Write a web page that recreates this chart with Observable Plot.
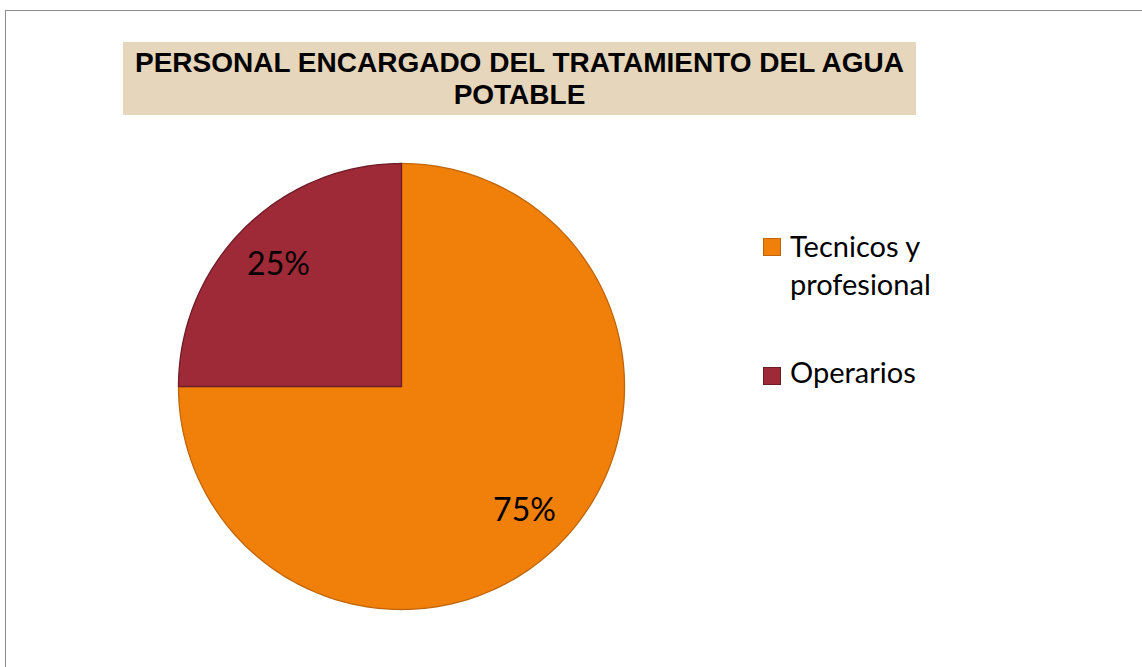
<!DOCTYPE html>
<html>
<head>
<meta charset="utf-8">
<script src="https://cdn.jsdelivr.net/npm/d3@7"></script>
<script src="https://cdn.jsdelivr.net/npm/@observablehq/plot@0.6"></script>
<style>
  html, body { margin: 0; padding: 0; background: #fff; }
  #wrap { position: relative; width: 1142px; height: 667px; overflow: hidden; }
  #frame { position: absolute; left: 5px; top: 10px; width: 1200px; height: 700px; border-left: 1px solid #8c8c8c; border-top: 1px solid #8c8c8c; }
  #title { position: absolute; left: 123px; top: 42px; width: 793px; height: 73px; background: #E5D6BC;
           font-family: "Liberation Sans", Arial, sans-serif; font-weight: bold; font-size: 28px; line-height: 32px;
           text-align: center; color: #000; box-sizing: border-box; padding-top: 5px; }
  #chart { position: absolute; left: 0; top: 0; }
  .leg { position: absolute; font-family: Lato, "Open Sans", sans-serif; font-size: 29px; line-height: 38px; color: #000; }
  .sw { position: absolute; width: 16px; height: 16px; }
</style>
</head>
<body>
<div id="wrap">
  <div id="frame"></div>
  <div id="chart"></div>
  <div id="title"></div>
  <div id="legend"></div>
</div>
<script>
const title = ["PERSONAL ENCARGADO DEL TRATAMIENTO DEL AGUA", "POTABLE"];
const categories = ["Tecnicos y profesional", "Operarios"];
const legendLines = [["Tecnicos y", "profesional"], ["Operarios"]];
const values = [75, 25];
const labels = ["75%", "25%"];
const fills = ["#F0800A", "#9E2937"];
const strokes = ["#C0650A", "#6E1C27"];

document.getElementById("title").innerHTML = title.join("<br>");

const data = categories.map((c, i) => ({category: c, value: values[i], label: labels[i]}));
const arcs = d3.pie().sort(null).value(d => d.value)(data);

// sample each slice outline in unit coordinates (y up), centre at 0
const outline = [];
arcs.forEach(a => {
  const n = Math.max(8, Math.ceil((a.endAngle - a.startAngle) / (Math.PI / 180)));
  outline.push({category: a.data.category, x: 0, y: 0});
  for (let k = 0; k <= n; k++) {
    const t = a.startAngle + (a.endAngle - a.startAngle) * k / n;
    outline.push({category: a.data.category, x: Math.sin(t), y: Math.cos(t)});
  }
});
const labelPts = arcs.map(a => {
  const m = (a.startAngle + a.endAngle) / 2;
  return {label: a.data.label, x: 0.78 * Math.sin(m), y: 0.78 * Math.cos(m)};
});

const cx = 401, cy = 386, r = 223;
const plot = Plot.plot({
  width: 1142, height: 667,
  margin: 0,
  x: {domain: [-1, 1], range: [cx - r, cx + r], axis: null},
  y: {domain: [-1, 1], range: [cy + r, cy - r], axis: null},
  color: {domain: categories, range: fills},
  style: {background: "transparent"},
  marks: [
    Plot.line(outline, {x: "x", y: "y", z: "category", fill: "category",
      stroke: d => strokes[categories.indexOf(d.category)], strokeWidth: 1.3, curve: "linear-closed"}),
    Plot.text(labelPts, {x: "x", y: "y", text: "label", fontSize: 32, fill: "#000",
      fontFamily: "Lato, 'Open Sans', sans-serif", textAnchor: "middle", dy: 1})
  ]
});
document.getElementById("chart").appendChild(plot);

// legend
const leg = document.getElementById("legend");
const swTops = [238, 367];
const txtTops = [227, 353];
categories.forEach((c, i) => {
  const sw = document.createElement("div");
  sw.className = "sw";
  sw.style.left = "763px"; sw.style.top = swTops[i] + "px";
  sw.style.background = fills[i]; sw.style.border = "1px solid " + strokes[i];
  leg.appendChild(sw);
  const t = document.createElement("div");
  t.className = "leg";
  t.style.left = "790px"; t.style.top = txtTops[i] + "px";
  t.innerHTML = legendLines[i].join("<br>");
  leg.appendChild(t);
});
</script>
</body>
</html>
